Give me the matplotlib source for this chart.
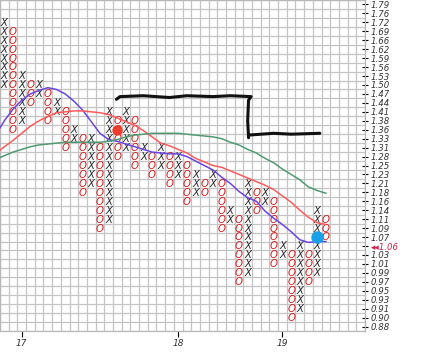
import matplotlib.pyplot as plt

# box prices, bottom box first (2% boxes)
price_labels = ['0.88', '0.90', '0.91', '0.93', '0.95', '0.97', '0.99', '1.01', '1.03', '1.05',
                '1.07', '1.09', '1.11', '1.14', '1.16', '1.18', '1.21', '1.23', '1.25', '1.28',
                '1.31', '1.33', '1.36', '1.38', '1.41', '1.44', '1.47', '1.50', '1.53', '1.56',
                '1.59', '1.62', '1.66', '1.69', '1.72', '1.76', '1.79']
last_price = '1.06'
last_box = 9

# point & figure columns, X columns at even index, O columns at odd index (box numbers)
col_low = [27, 22, 23, 25, 26, 23, 24, 20, 21, 15, 16, 11, 12, 19, 20, 18, 19, 17, 18,
           16, 17, 14, 15, 15, 16, 11, 12, 5, 6, 13, 14, 7, 8, 1, 2, 5, 6, 10]
col_high = [34, 33, 28, 27, 27, 26, 25, 24, 22, 21, 21, 20, 24, 23, 24, 23, 20, 19, 20,
            19, 19, 18, 17, 16, 17, 16, 13, 12, 16, 15, 15, 14, 9, 8, 9, 8, 13, 12]

# year ticks
year_cols = [2, 20, 32]
year_labels = ['17', '18', '19']

# moving averages read per column
ma_cols = [-0.5] + list(range(38))
ma_fast = [22.2, 23.0, 24.3, 25.3, 26.0, 26.4, 26.7, 26.5, 26.0, 25.2, 24.2, 22.9, 21.6, 20.9,
           20.7, 20.4, 20.1, 19.8, 19.5, 19.4, 19.3, 19.3, 19.0, 18.5, 18.0, 17.5, 16.7, 16.0,
           15.1, 14.4, 14.0, 12.9, 12.1, 11.4, 10.6, 9.7, 9.4, 9.5, 9.5]
ma_mid = [19.7, 20.1, 20.8, 21.6, 22.4, 23.0, 23.5, 23.9, 24.0, 24.1, 24.1, 24.0, 23.9, 23.7,
          23.3, 22.9, 22.5, 21.9, 21.2, 20.5, 20.2, 19.8, 19.4, 18.8, 18.4, 18.0, 17.8, 17.4,
          17.0, 16.6, 16.2, 15.8, 15.3, 14.6, 13.9, 13.0, 12.2, 11.6, 11.4]
ma_slow = [18.9, 19.1, 19.5, 19.8, 20.1, 20.3, 20.4, 20.5, 20.6, 20.6, 20.6, 20.6, 20.6, 20.7,
           20.9, 21.2, 21.4, 21.5, 21.6, 21.6, 21.6, 21.6, 21.5, 21.4, 21.3, 21.2, 21.0, 20.6,
           20.3, 19.8, 19.4, 18.8, 18.3, 17.6, 17.0, 16.4, 15.6, 15.2, 14.9]

# hand drawn line
pen_x = [12.9, 13.3, 16, 19, 21, 24, 26, 28.4, 28.1, 28.0, 28.1, 28.1, 31, 33, 36.3]
pen_y = [25.4, 25.7, 25.8, 25.6, 25.8, 25.7, 25.8, 25.7, 25.3, 23.0, 21.1, 21.4, 21.6, 21.5, 21.6]

# dots
red_dot = (13, 22)
blue_dot = (36, 10)

fig = plt.figure(figsize=(4.26, 3.57), dpi=100)
ax = fig.add_axes([0, 26 / 357, 365 / 426, 331 / 357])

for i, (lo, hi) in enumerate(zip(col_low, col_high)):
    if i % 2 == 0:
        mark, color = 'X', '#2a2a2a'
    else:
        mark, color = 'O', '#d41c1c'
    for b in range(lo, hi + 1):
        ax.text(i, b - 0.38, mark, ha='center', va='baseline', color=color,
                fontsize=7.3, fontstyle='italic', family='DejaVu Sans', zorder=3)

ax.plot(ma_cols, ma_fast, color='#6a45e6', lw=1.1, zorder=4)
ax.plot(ma_cols, ma_mid, color='#ff5a5a', lw=1.1, zorder=4)
ax.plot(ma_cols, ma_slow, color='#4f9a72', lw=1.1, zorder=4)
ax.plot(pen_x, pen_y, color='#111111', lw=2.2, solid_capstyle='round', zorder=4)

ax.scatter([red_dot[0]], [red_dot[1]], s=55, color='#f03a2c', zorder=5, lw=0)
ax.scatter([blue_dot[0]], [blue_dot[1]], s=80, color='#18a0ea', zorder=5, lw=0)

ax.set_xlim(-0.5, 41.5)
ax.set_ylim(-0.5, 36.5)

ax.set_xticks([x - 0.5 for x in range(43)], minor=True)
ax.set_yticks([y - 0.5 for y in range(38)], minor=True)
ax.grid(which='minor', color='#c4c4c4', lw=0.9)
ax.tick_params(which='minor', length=0)

ax.yaxis.tick_right()
ax.set_yticks(range(len(price_labels)))
labels = list(price_labels)
labels[last_box] = '◂◂' + last_price
ax.set_yticklabels(labels, family=['DejaVu Sans'], fontstyle='italic', fontsize=6.2)
for t in ax.get_yticklabels():
    t.set_color('#333333')
ax.get_yticklabels()[last_box].set_color('#d0204a')
ax.tick_params(axis='y', which='major', direction='inout', length=4, width=0.8, pad=2)

ax.set_xticks(year_cols)
ax.set_xticklabels(year_labels, fontstyle='italic', fontsize=6.5, color='#333333')
ax.tick_params(axis='x', which='major', direction='out', length=4, width=0.8, pad=2)

for s in ax.spines.values():
    s.set_color('#b8b8b8')
    s.set_linewidth(0.9)

fig.savefig('out.png', dpi=100)
